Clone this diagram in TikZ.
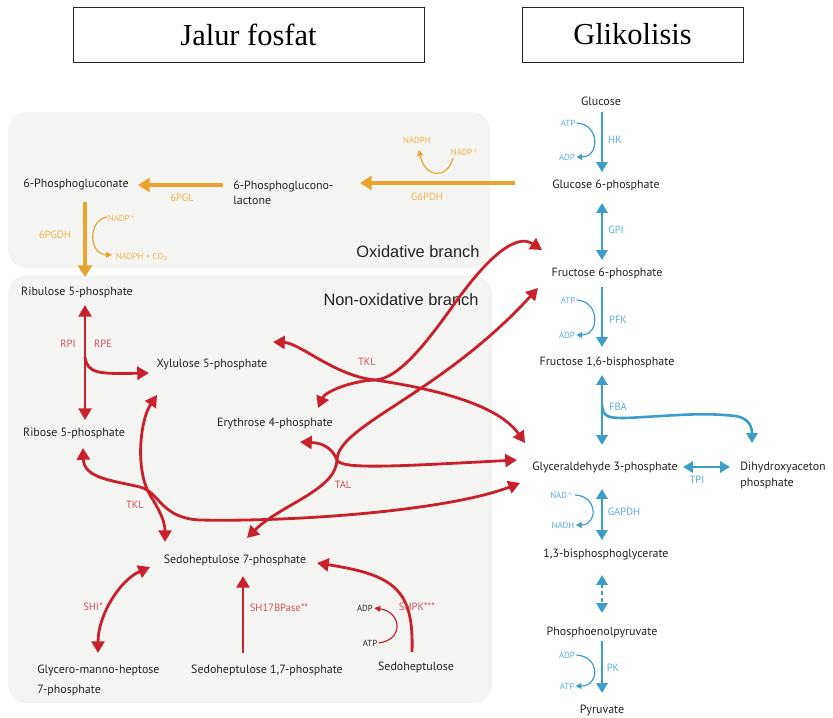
\documentclass[tikz,border=0pt]{standalone}
\usepackage{fontspec}
\setmainfont{PT Sans}
\newfontfamily\titlefont{Liberation Serif}
\newfontfamily\branchfont{Liberation Sans}
\usetikzlibrary{arrows.meta}

\definecolor{ppred}{HTML}{C8202C}
\definecolor{ppredlbl}{HTML}{D4535B}
\definecolor{ppblue}{HTML}{3C9DCB}
\definecolor{ppbluelbl}{HTML}{5DAFD7}
\definecolor{pporange}{HTML}{EAA42E}
\definecolor{pporangelbl}{HTML}{EDB452}
\definecolor{panelgray}{HTML}{F4F4F2}
\definecolor{mettext}{HTML}{222222}

\tikzset{
  met/.style={font=\fontsize{10.2}{12.8}\selectfont, text=mettext, inner sep=1pt},
  branchlbl/.style={font=\branchfont\fontsize{14}{16}\selectfont, text=mettext, inner sep=0pt},
  titlebox/.style={draw=black!85, line width=0.7pt, inner sep=0pt,
    minimum height=1.65cm, font=\titlefont\fontsize{26}{30}\selectfont},
  redlbl/.style={font=\fontsize{9}{10}\selectfont, text=ppredlbl, inner sep=1pt},
  bluelbl/.style={font=\fontsize{9}{10}\selectfont, text=ppbluelbl, inner sep=1pt},
  orangelbl/.style={font=\fontsize{9}{10}\selectfont, text=pporangelbl, inner sep=1pt},
  cof/.style={font=\fontsize{7.5}{9}\selectfont, inner sep=1pt},
  redarr/.style={draw=ppred, line width=2.4pt, >={Triangle[length=10pt,width=11pt]}},
  bluearr/.style={draw=ppblue, line width=2.2pt, >={Triangle[length=8.5pt,width=9.5pt]}},
  orangearr/.style={draw=pporange, line width=2.6pt, >={Triangle[length=10pt,width=12pt]}},
  thinarr/.style={line width=1pt, >={Triangle[length=5pt,width=5pt]}},
}

\begin{document}
\begin{tikzpicture}[x=0.03cm, y=-0.03cm]
\useasboundingbox (0,0) rectangle (833,717);

% panels
\fill[panelgray, rounded corners=0.55cm] (8,112) rectangle (490,268);
\fill[panelgray, rounded corners=0.55cm] (8,275) rectangle (492,703);

% titles
\node[titlebox, minimum width=10.53cm] (jalur) at (248.5,34.5) {Jalur fosfat};
\node[titlebox, minimum width=6.63cm] (glik) at (632.5,34.5) {Glikolisis};

\node[branchlbl] (oxbr) at (418,252) {Oxidative branch};
\node[branchlbl] (nonoxbr) at (401,300) {Non-oxidative branch};

% glycolysis
\node[met] (glc) at (601,101) {Glucose};
\node[met] (g6p) at (606,185) {Glucose 6-phosphate};
\node[met] (f6p) at (607,273) {Fructose 6-phosphate};
\node[met] (f16bp) at (607,362) {Fructose 1,6-bisphosphate};
\node[met] (gap) at (605,467) {Glyceraldehyde 3-phosphate};
\node[met, align=left, anchor=west, font=\fontsize{10.2}{13.6}\selectfont] (dhap) at (739,475) {Dihydroxyaceton\\phosphate};
\node[met] (bpg) at (606,555) {1,3-bisphosphoglycerate};
\node[met] (pep) at (602,632) {Phosphoenolpyruvate};
\node[met] (pyr) at (602,710) {Pyruvate};

\draw[bluearr,->] ([shift={(1,11)}]glc.center) -- ([shift={(-4,-13)}]g6p.center);
\draw[bluearr,<->] ([shift={(-4,18)}]g6p.center) -- ([shift={(-5,-13)}]f6p.center);
\draw[bluearr,->] ([shift={(-5,14)}]f6p.center) -- ([shift={(-5,-15)}]f16bp.center);
\draw[bluearr,<->] ([shift={(-5,13)}]f16bp.center) -- ([shift={(-3,-22)}]gap.center);
\draw[bluearr,<->] ([shift={(-3,22)}]gap.center) -- ([shift={(-4,-15)}]bpg.center);
\draw[bluearr,<->,dashed] ([shift={(-4,20)}]bpg.center) -- ([shift={(0,-19)}]pep.center);
\draw[bluearr,->] ([shift={(0,9)}]pep.center) -- ([shift={(0,-17)}]pyr.center);
\draw[bluearr,<->] ([shift={(78,0)}]gap.center) -- ([shift={(-9,-8)}]dhap.west);
\coordinate (fbaj) at (602,405);
\draw[bluearr,->] (fbaj) .. controls (603,417) and (608,418) .. (625,418)
  .. controls (670,416) and (700,412) .. (735,416)
  .. controls (750,418) and (752,428) .. ([shift={(13,-32)}]dhap.west);

\node[bluelbl] (hk) at (615,140) {HK};
\node[bluelbl] (gpi) at (616,230) {GPI};
\node[bluelbl] (pfk) at (618,320) {PFK};
\node[bluelbl] (fba) at (618,407) {FBA};
\node[bluelbl] (tpi) at (697,480) {TPI};
\node[bluelbl] (gapdh) at (624,512) {GAPDH};
\node[bluelbl] (pk) at (613,668) {PK};

\node[cof, text=ppbluelbl] (atp1) at (568,123) {ATP};
\node[cof, text=ppbluelbl] (adp1) at (567,157) {ADP};
\node[cof, text=ppbluelbl] (atp2) at (568,300) {ATP};
\node[cof, text=ppbluelbl] (adp2) at (567,335) {ADP};
\node[cof, text=ppbluelbl] (nad) at (562,495) {NAD$^+$};
\node[cof, text=ppbluelbl] (nadh) at (563,525) {NADH};
\node[cof, text=ppbluelbl] (adp3) at (567,655) {ADP};
\node[cof, text=ppbluelbl] (atp3) at (567,686) {ATP};

\draw[thinarr, draw=ppblue, ->] (atp1.east) .. controls (600,124) and (600,157) .. (adp1.east);
\draw[thinarr, draw=ppblue, ->] (atp2.east) .. controls (600,301) and (600,335) .. (adp2.east);
\draw[thinarr, draw=ppblue, ->] (nad.east) .. controls (598,496) and (598,525) .. (nadh.east);
\draw[thinarr, draw=ppblue, ->] (adp3.east) .. controls (600,656) and (600,686) .. (atp3.east);

% metabolites of the pentose phosphate pathway
\node[met] (pg6) at (76,185) {6-Phosphogluconate};
\node[met, align=left, anchor=west] (pgl) at (232,192.5) {6-Phosphoglucono-\\lactone};
\node[met] (ru5p) at (77,292) {Ribulose 5-phosphate};
\node[met] (r5p) at (74,433) {Ribose 5-phosphate};
\node[met] (x5p) at (212,365) {Xylulose 5-phosphate};
\node[met] (e4p) at (275,423) {Erythrose 4-phosphate};
\node[met] (s7p) at (235,560) {Sedoheptulose 7-phosphate};
\node[met, align=left, anchor=west, font=\fontsize{10.2}{17}\selectfont] (gmh) at (36,680) {Glycero-manno-heptose\\7-phosphate};
\node[met] (sh17) at (267,670) {Sedoheptulose 1,7-phosphate};
\node[met] (sh) at (416,667) {Sedoheptulose};

% oxidative branch
\draw[orangearr,->] ([shift={(-91,-2)}]g6p.center) -- ([shift={(128,-9.5)}]pgl.west);
\draw[orangearr,->] ([shift={(-9,-7.5)}]pgl.west) -- ([shift={(62,0)}]pg6.center);
\draw[orangearr,->] ([shift={(9,17)}]pg6.center) -- ([shift={(8,-15)}]ru5p.center);

\node[orangelbl] (g6pdh) at (427,197) {G6PDH};
\node[orangelbl] (pgl6) at (182,198) {6PGL};
\node[orangelbl] (pgdh6) at (55,235) {6PGDH};
\node[cof, text=pporangelbl] (nadph1) at (417,140) {NADPH};
\node[cof, text=pporangelbl] (nadp1) at (465,152) {NADP$^+$};
\node[cof, text=pporangelbl] (nadp2) at (122,218) {NADP$^+$};
\node[cof, text=pporangelbl] (nadphco) at (142,257) {NADPH + CO$_2$};

\draw[thinarr, draw=pporange, ->] ([shift={(-12,6)}]nadp1.center) .. controls (447,180) and (425,178) .. ([shift={(2,10)}]nadph1.center);
\draw[thinarr, draw=pporange, ->] ([shift={(-15,-1)}]nadp2.center) .. controls (88,220) and (88,254) .. ([shift={(-30,-2)}]nadphco.center);

% non-oxidative branch
% RPI / RPE
\draw[redarr,<->] ([shift={(8,13)}]ru5p.center) -- ([shift={(11,-13)}]r5p.center);
\coordinate (rpej) at (85,357);
\draw[redarr,->] (rpej) .. controls (87,374) and (100,374) .. ([shift={(-63,8)}]x5p.center);

% upper TKL
\coordinate (tklj) at (375,380);
\draw[redarr,<->] ([shift={(61,-23)}]x5p.center) .. controls (300,343) and (335,376) .. (tklj)
  .. controls (415,386) and (495,400) .. ([shift={(-80,-24)}]gap.center);
\draw[redarr,<->] ([shift={(43,-15)}]e4p.center) .. controls (325,392) and (350,381) .. (tklj)
  .. controls (398,379) and (425,345) .. (455,303) .. controls (485,261) and (515,232) .. ([shift={(-65,-23)}]f6p.center);

% TAL
\coordinate (talj) at (337,460);
\draw[redarr,<->] ([shift={(25,19)}]e4p.center) .. controls (325,443) and (333,450) .. (talj)
  .. controls (341,470) and (400,466) .. ([shift={(-88,-7)}]gap.center);
\draw[redarr,<->] ([shift={(12,-22)}]s7p.center) .. controls (280,505) and (336,490) .. (talj)
  .. controls (338,425) and (440,395) .. ([shift={(-69,15)}]f6p.center);

% lower TKL
\draw[redarr,<->] ([shift={(9,15)}]r5p.center) .. controls (84,478) and (110,480) .. (140,487)
  .. controls (160,492) and (160,518) .. (200,520) .. controls (300,522) and (450,510) .. ([shift={(-85,16)}]gap.center);
\draw[redarr,<->] ([shift={(-55,30)}]x5p.center) .. controls (140,420) and (135,470) .. (150,495)
  .. controls (158,508) and (165,520) .. ([shift={(-70,-18)}]s7p.center);

% heptose reactions
\draw[redarr,<->] ([shift={(-85,7)}]s7p.center) .. controls (120,580) and (98,615) .. ([shift={(62,-27)}]gmh.west);
\draw[redarr,->] ([shift={(-24,-17)}]sh17.center) -- ([shift={(8,16)}]s7p.center);
\draw[redarr,->] ([shift={(-4,-15)}]sh.center) .. controls (414,590) and (395,575) .. ([shift={(82,3)}]s7p.center);

\node[cof, text=mettext] (adp4) at (365,608) {ADP};
\node[cof, text=mettext] (atp4) at (370,643) {ATP};
\draw[thinarr, draw=ppred, ->] (atp4.east) .. controls (404,640) and (402,612) .. (adp4.east);

\node[redlbl] (rpi) at (68,344) {RPI};
\node[redlbl] (rpe) at (103,344) {RPE};
\node[redlbl] (tkla) at (367,362) {TKL};
\node[redlbl] (tal) at (343,485) {TAL};
\node[redlbl] (tklb) at (135,505) {TKL};
\node[redlbl] (shi) at (93,607) {SHI*};
\node[redlbl] (sbpase) at (279,608) {SH17BPase**};
\node[redlbl] (shpk) at (417,607) {SHPK***};
\end{tikzpicture}
\end{document}
